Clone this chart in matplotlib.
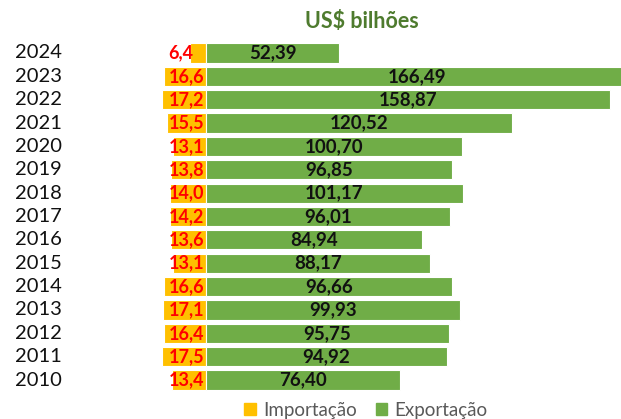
import matplotlib
matplotlib.use("Agg")
import matplotlib.pyplot as plt
from matplotlib.patches import Patch

years = [2010, 2011, 2012, 2013, 2014, 2015, 2016, 2017, 2018, 2019, 2020, 2021, 2022, 2023, 2024]
importacao = [13.4, 17.5, 16.4, 17.1, 16.6, 13.1, 13.6, 14.2, 14.0, 13.8, 13.1, 15.5, 17.2, 16.6, 6.4]
exportacao = [76.40, 94.92, 95.75, 99.93, 96.66, 88.17, 84.94, 96.01, 101.17, 96.85, 100.70, 120.52, 158.87, 166.49, 52.39]

plt.rcParams['font.family'] = ['Lato', 'DejaVu Sans']

W, H = 621, 419
fig = plt.figure(figsize=(W / 100, H / 100), dpi=100)
ax = fig.add_axes([0, 0, 1, 1])

green = '#70AD47'
orange = '#FFC000'

pos = list(range(len(years)))
ax.barh(pos, [-v for v in importacao], height=0.82, color=orange, edgecolor='white', linewidth=0.8)
ax.barh(pos, exportacao, height=0.82, color=green, edgecolor='white', linewidth=0.8)

scale = 2.54
x0 = 206
ax.set_xlim(-x0 / scale, (W - x0) / scale)
step = (380 - 53) / 14
ax.set_ylim(-(H - 380) / step, 14 + 53 / step)
ax.axis('off')

def fmt(v, d):
    return f"{v:.{d}f}".replace('.', ',')

for p, y, imp, exp in zip(pos, years, importacao, exportacao):
    ax.text(15 / W, p, str(y), transform=ax.get_yaxis_transform(), ha='left', va='center',
            fontsize=14.5, color='#111111')
    lx = -0.6 if imp >= 10 else -imp + 1.2
    ax.text(lx, p, fmt(imp, 1), ha='right', va='center', fontsize=13, fontweight='bold', color='#FF0000')
    ax.text(exp / 2, p, fmt(exp, 2), ha='center', va='center', fontsize=13.5, fontweight='bold', color='#111111')

fig.text(362 / W, 1 - 22 / H, 'US$ bilhões', ha='center', va='center', fontsize=15.5,
         fontweight='bold', color='#4E7B2E')

handles = [Patch(color=orange, label='Importação'), Patch(color=green, label='Exportação')]
fig.legend(handles=handles, loc='center', bbox_to_anchor=(366 / W, 9 / H), ncol=2, frameon=False,
           fontsize=13.5, labelcolor='#595959', handlelength=0.6, handleheight=0.6,
           handletextpad=0.4, columnspacing=1.0)

fig.savefig('out.png', dpi=100)
